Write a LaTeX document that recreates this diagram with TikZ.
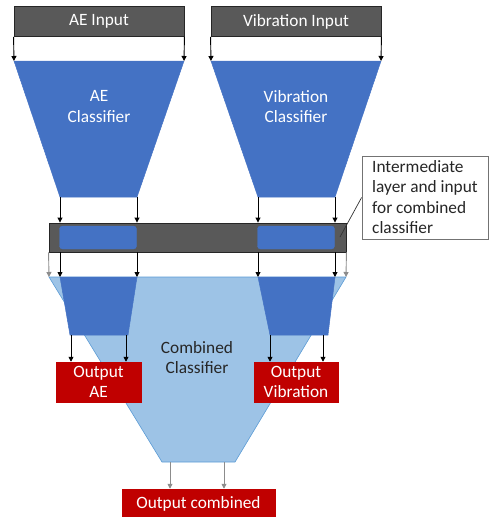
\documentclass[tikz,border=0pt]{standalone}
\usepackage{fontspec}
\setmainfont{Carlito}
\usetikzlibrary{arrows.meta}
\definecolor{dg}{HTML}{595959}
\definecolor{bl}{HTML}{4472C4}
\definecolor{lb}{HTML}{9DC3E6}
\definecolor{lbb}{HTML}{5B9BD5}
\definecolor{rd}{HTML}{C00000}
\definecolor{ga}{HTML}{8C8C8C}
\definecolor{tx}{HTML}{262626}
\newcommand\myfs{\fontsize{17.3}{20.5}\selectfont}
\tikzset{
  inbox/.style={draw=black!85, fill=dg, line width=0.9pt, text=white, minimum height=30pt, inner sep=0pt, font=\myfs},
  outbox/.style={fill=rd, draw=rd, line width=0.5pt, text=white, inner sep=0pt, font=\myfs, align=center},
  arr/.style={-{Triangle[length=5pt,width=5pt]}, line width=0.9pt, black},
  garr/.style={-{Triangle[length=5pt,width=5pt]}, line width=0.9pt, ga},
  lbl/.style={font=\myfs, align=center, inner sep=0pt},
  trap/.style={fill=bl, draw=bl, line width=0.5pt},
  laybox/.style={fill=bl, draw=bl, rounded corners=3pt, minimum width=77pt, minimum height=23pt, inner sep=0pt}
}
\begin{document}
\begin{tikzpicture}[x=1pt,y=-1pt]
\useasboundingbox (0,0) rectangle (489,517);
% corner coordinates
\coordinate (aTL) at (14,61); \coordinate (aTR) at (184,61);
\coordinate (aBL) at (60,197); \coordinate (aBR) at (137,197);
\coordinate (vTL) at (211,61); \coordinate (vTR) at (381,61);
\coordinate (vBL) at (258,197); \coordinate (vBR) at (335,197);
\coordinate (cTL) at (49,277); \coordinate (cTR) at (346,277);
\coordinate (cBL) at (162,462); \coordinate (cBR) at (235,462);
\coordinate (saTL) at (60,277); \coordinate (saTR) at (137,277);
\coordinate (saBL) at (70,335); \coordinate (saBR) at (128,335);
\coordinate (svTL) at (258,277); \coordinate (svTR) at (335,277);
\coordinate (svBL) at (270,335); \coordinate (svBR) at (328,335);

% input boxes
\node[inbox, minimum width=170pt] (aein) at (99,21.5) {AE Input};
\node[inbox, minimum width=170pt] (vin) at (296,21.5) {Vibration Input};

% classifier trapezoids
\fill[trap] (aTL) -- (aTR) -- (aBR) -- (aBL) -- cycle;
\fill[trap] (vTL) -- (vTR) -- (vBR) -- (vBL) -- cycle;
\node[lbl, text=white] (aecl) at (99,106.5) {AE\\Classifier};
\node[lbl, text=white] (vcl) at (296,106.5) {Vibration\\Classifier};

% input arrows
\draw[arr] (aein.south west) -- (aTL);
\draw[arr] (aein.south east) -- (aTR);
\draw[arr] (vin.south west) -- (vTL);
\draw[arr] (vin.south east) -- (vTR);

% intermediate bar
\node[fill=dg, draw=black!85, line width=0.9pt, minimum width=297pt, minimum height=29pt, inner sep=0pt] (bar) at (197.5,237.5) {};
\node[laybox] (ba) at (98,237.5) {};
\node[laybox] (bv) at (296,237.5) {};

\draw[arr] (aBL) -- (aBL |- bar.north);
\draw[arr] (aBR) -- (aBR |- bar.north);
\draw[arr] (vBL) -- (vBL |- bar.north);
\draw[arr] (vBR) -- (vBR |- bar.north);

% combined classifier
\filldraw[fill=lb, draw=lbb, line width=0.6pt] (cTL) -- (cTR) -- (cBR) -- (cBL) -- cycle;
\fill[trap] (saTL) -- (saTR) -- (saBR) -- (saBL) -- cycle;
\fill[trap] (svTL) -- (svTR) -- (svBR) -- (svBL) -- cycle;
\node[lbl, text=tx] (ccl) at (197,357.5) {Combined\\Classifier};

% arrows below bar
\draw[garr] (bar.south west) -- (cTL);
\draw[garr] (bar.south east) -- (cTR);
\draw[arr] (saTL |- bar.south) -- (saTL);
\draw[arr] (saTR |- bar.south) -- (saTR);
\draw[arr] (svTL |- bar.south) -- (svTL);
\draw[arr] (svTR |- bar.south) -- (svTR);

% outputs
\node[outbox, minimum width=85pt, minimum height=40pt] (oae) at (98.5,382) {Output\\AE};
\node[outbox, minimum width=84pt, minimum height=40pt] (ovi) at (296,382) {Output\\Vibration};
\node[outbox, minimum width=153pt, minimum height=30pt] (oc) at (198.5,504) {Output combined};

\coordinate (sa1) at (71,335); \coordinate (sa2) at (126,335);
\coordinate (sv1) at (270,335); \coordinate (sv2) at (323,335);
\draw[arr] (sa1) -- (sa1 |- oae.north);
\draw[arr] (sa2) -- (sa2 |- oae.north);
\draw[arr] (sv1) -- (sv1 |- ovi.north);
\draw[arr] (sv2) -- (sv2 |- ovi.north);

\coordinate (cb1) at (170,462); \coordinate (cb2) at (224,462);
\draw[garr] (cb1) -- (cb1 |- oc.north);
\draw[garr] (cb2) -- (cb2 |- oc.north);

% callout
\node[draw=black!55, fill=white, line width=0.8pt, minimum width=126pt, minimum height=83pt, inner sep=0pt] (call) at (425,197.5) {};
\node[font=\myfs, align=left, anchor=north west, inner sep=0pt, text=tx] (calltxt) at (372,160) {Intermediate\\layer and input\\for combined\\classifier};
\coordinate (cp) at (340,237);
\draw[black!80, line width=0.7pt] (call.west) -- (cp);
\end{tikzpicture}
\end{document}
